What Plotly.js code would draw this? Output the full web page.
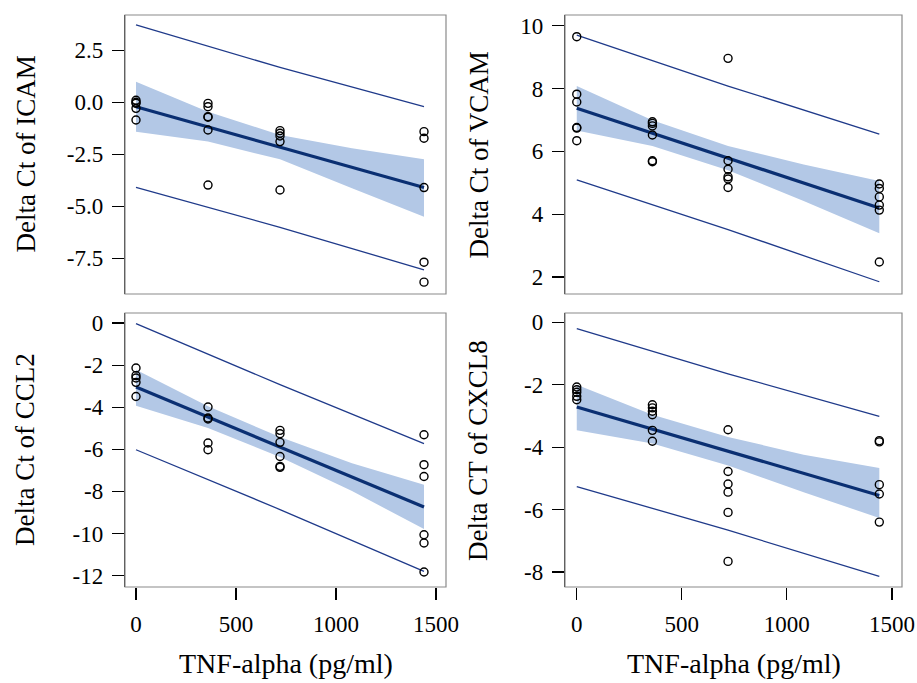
<!DOCTYPE html>
<html>
<head>
<meta charset="utf-8">
<script src="https://cdn.plot.ly/plotly-3.0.1.min.js"></script>
<style>html,body{margin:0;padding:0;background:#fff;}#chart{width:917px;height:683px;}</style>
</head>
<body>
<div id="chart"></div>
<script>
// ---- Data ----
// Panel 1: ICAM
const icamX = [0,0,0,0,0, 360,360,360,360,360,360, 720,720,720,720,720, 1440,1440,1440,1440,1440];
const icamY = [0.1,0.0,-0.05,-0.29,-0.85, -0.05,-0.21,-0.69,-0.72,-1.33,-3.98, -1.36,-1.49,-1.62,-1.89,-4.22, -1.41,-1.73,-4.1,-7.69,-8.65];
// Panel 2: VCAM
const vcamX = [0,0,0,0,0,0, 360,360,360,360,360,360, 720,720,720,720,720,720, 1440,1440,1440,1440,1440,1440];
const vcamY = [9.65,7.82,7.57,6.76,6.74,6.34, 6.94,6.89,6.81,6.52,5.70,5.67, 8.96,5.70,5.43,5.19,5.12,4.85, 4.96,4.82,4.55,4.29,4.13,2.48];
// Panel 3: CCL2
const ccl2X = [0,0,0,0,0, 360,360,360,360,360, 720,720,720,720,720,720, 1440,1440,1440,1440,1440,1440];
const ccl2Y = [-2.14,-2.50,-2.61,-2.82,-3.49, -3.99,-4.51,-4.56,-5.70,-6.02, -5.10,-5.26,-5.67,-6.34,-6.81,-6.86, -5.31,-6.73,-7.29,-10.06,-10.45,-11.83];
// Panel 4: CXCL8
const cxcl8X = [0,0,0,0,0, 360,360,360,360,360,360, 720,720,720,720,720,720, 1440,1440,1440,1440,1440];
const cxcl8Y = [-2.07,-2.16,-2.24,-2.37,-2.48, -2.64,-2.74,-2.85,-2.96,-3.46,-3.81, -3.44,-4.78,-5.18,-5.44,-6.09,-7.66, -3.79,-3.83,-5.20,-5.50,-6.40];

// Fitted lines (read at the ends)
const fitX = [0, 1440];
const icamFit = [-0.21, -4.10];
const vcamFit = [7.37, 4.20];
const ccl2Fit = [-3.04, -8.74];
const cxcl8Fit = [-2.71, -5.55];

// Confidence bands (read at these doses)
const bandX = [0, 360, 720, 1080, 1440];
const icamCIup = [0.99, -0.45, -1.57, -2.21, -2.74];
const icamCIlo = [-1.41, -1.89, -2.74, -4.13, -5.50];
const vcamCIup = [8.08, 6.99, 6.17, 5.58, 5.06];
const vcamCIlo = [6.66, 6.17, 5.40, 4.42, 3.39];
const ccl2CIup = [-2.22, -3.95, -5.42, -6.66, -7.68];
const ccl2CIlo = [-3.93, -4.99, -6.36, -7.98, -9.79];
const cxcl8CIup = [-2.00, -2.96, -3.67, -4.24, -4.67];
const cxcl8CIlo = [-3.46, -3.88, -4.59, -5.44, -6.27];

// Prediction bands
const predX = [0, 720, 1440];
const icamPIup = [3.72, 1.68, -0.21];
const icamPIlo = [-4.09, -6.01, -8.06];
const vcamPIup = [9.70, 8.08, 6.55];
const vcamPIlo = [5.09, 3.51, 1.85];
const ccl2PIup = [-0.03, -2.93, -5.73];
const ccl2PIlo = [-6.02, -8.86, -11.80];
const cxcl8PIup = [-0.20, -1.65, -3.01];
const cxcl8PIlo = [-5.26, -6.66, -8.14];

// Axis ticks
const xTicks = [0, 500, 1000, 1500];
const xTickText = ['0', '500', '1000', '1500'];
const icamTicks = [-7.5, -5, -2.5, 0, 2.5];
const icamTickText = ['-7.5', '-5.0', '-2.5', '0.0', '2.5'];
const vcamTicks = [2, 4, 6, 8, 10];
const vcamTickText = ['2', '4', '6', '8', '10'];
const ccl2Ticks = [-12, -10, -8, -6, -4, -2, 0];
const ccl2TickText = ['-12', '-10', '-8', '-6', '-4', '-2', '0'];
const cxcl8Ticks = [-8, -6, -4, -2, 0];
const cxcl8TickText = ['-8', '-6', '-4', '-2', '0'];

const yTitles = ['Delta Ct of ICAM', 'Delta Ct of VCAM', 'Delta Ct of CCL2', 'Delta CT of CXCL8'];
const xTitle = 'TNF-alpha (pg/ml)';

// ---- Styling ----
const FONT = 'Liberation Serif, Times New Roman, serif';
const bandColor = '#b3c8e6';
const fitColor = '#0a2f72';
const piColor = '#1f3a8a';

const panels = [
  {x: icamX, y: icamY, fit: icamFit, up: icamCIup, lo: icamCIlo, pu: icamPIup, pl: icamPIlo},
  {x: vcamX, y: vcamY, fit: vcamFit, up: vcamCIup, lo: vcamCIlo, pu: vcamPIup, pl: vcamPIlo},
  {x: ccl2X, y: ccl2Y, fit: ccl2Fit, up: ccl2CIup, lo: ccl2CIlo, pu: ccl2PIup, pl: ccl2PIlo},
  {x: cxcl8X, y: cxcl8Y, fit: cxcl8Fit, up: cxcl8CIup, lo: cxcl8CIlo, pu: cxcl8PIup, pl: cxcl8PIlo}
];

const traces = [];
panels.forEach((p, i) => {
  const xa = i === 0 ? 'x' : 'x' + (i + 1);
  const ya = i === 0 ? 'y' : 'y' + (i + 1);
  traces.push({
    x: bandX.concat(bandX.slice().reverse()),
    y: p.up.concat(p.lo.slice().reverse()),
    type: 'scatter', mode: 'lines', fill: 'toself', fillcolor: bandColor,
    line: {width: 0, color: bandColor}, xaxis: xa, yaxis: ya, hoverinfo: 'skip'
  });
  traces.push({x: predX, y: p.pu, type: 'scatter', mode: 'lines', line: {color: piColor, width: 1.3}, xaxis: xa, yaxis: ya});
  traces.push({x: predX, y: p.pl, type: 'scatter', mode: 'lines', line: {color: piColor, width: 1.3}, xaxis: xa, yaxis: ya});
  traces.push({x: fitX, y: p.fit, type: 'scatter', mode: 'lines', line: {color: fitColor, width: 3.2}, xaxis: xa, yaxis: ya});
  traces.push({
    x: p.x, y: p.y, type: 'scatter', mode: 'markers', xaxis: xa, yaxis: ya,
    marker: {symbol: 'circle-open', size: 8, color: '#000', line: {width: 1.4, color: '#000'}}
  });
});

const W = 917, H = 683;
const leftDom = [125 / W, 446 / W];
const rightDom = [565 / W, 902 / W];
const topDom = [1 - 294 / H, 1 - 15 / H];
const botDom = [1 - 587 / H, 1 - 313 / H];

function xAxis(dom, range, showTicks, anchor) {
  return {
    domain: dom, range: range, anchor: anchor, showgrid: false, zeroline: false, showline: false,
    ticks: showTicks ? 'outside' : '', ticklen: 12, tickwidth: 1.2, tickcolor: '#000',
    tickvals: xTicks, ticktext: xTickText, showticklabels: showTicks,
    tickfont: {family: FONT, size: 23, color: '#000'}, ticklabelstandoff: 4
  };
}
function yAxis(dom, range, vals, text, anchor) {
  return {
    domain: dom, range: range, anchor: anchor, showgrid: false, zeroline: false,
    showline: true, linecolor: '#222', linewidth: 1.2,
    ticks: 'outside', ticklen: 12, tickwidth: 1.2, tickcolor: '#000',
    tickvals: vals, ticktext: text,
    tickfont: {family: FONT, size: 23, color: '#000'}, ticklabelstandoff: 4
  };
}

const shapes = [];
['', '2', '3', '4'].forEach(s => {
  shapes.push({type: 'rect', xref: 'x' + s + ' domain', yref: 'y' + s + ' domain', x0: 0, x1: 1, y0: 0, y1: 1,
    line: {color: '#8a8a8a', width: 1.2}, fillcolor: 'rgba(0,0,0,0)', layer: 'above'});
});

const annotations = [];
const yTitlePos = [
  {x: 25, y: (15 + 294) / 2}, {x: 478, y: (15 + 294) / 2},
  {x: 25, y: (313 + 587) / 2}, {x: 478, y: (313 + 587) / 2}
];
yTitles.forEach((t, i) => {
  annotations.push({text: t, xref: 'paper', yref: 'paper', x: yTitlePos[i].x / W, y: 1 - yTitlePos[i].y / H,
    textangle: -90, showarrow: false, xanchor: 'center', yanchor: 'middle',
    font: {family: FONT, size: 27, color: '#000'}});
});
[(125 + 446) / 2, (565 + 902) / 2].forEach(cx => {
  annotations.push({text: xTitle, xref: 'paper', yref: 'paper', x: cx / W, y: 1 - 663 / H,
    showarrow: false, xanchor: 'center', yanchor: 'middle', font: {family: FONT, size: 28, color: '#000'}});
});

const layout = {
  width: W, height: H, margin: {l: 0, r: 0, t: 0, b: 0},
  paper_bgcolor: '#fff', plot_bgcolor: '#fff', showlegend: false,
  xaxis: xAxis(leftDom, [-55, 1550], false, 'y'),
  yaxis: yAxis(topDom, [-9.22, 4.2], icamTicks, icamTickText, 'x'),
  xaxis2: xAxis(rightDom, [-56, 1548], false, 'y2'),
  yaxis2: yAxis(topDom, [1.46, 10.34], vcamTicks, vcamTickText, 'x2'),
  xaxis3: xAxis(leftDom, [-55, 1550], true, 'y3'),
  yaxis3: yAxis(botDom, [-12.54, 0.475], ccl2Ticks, ccl2TickText, 'x3'),
  xaxis4: xAxis(rightDom, [-56, 1548], true, 'y4'),
  yaxis4: yAxis(botDom, [-8.48, 0.30], cxcl8Ticks, cxcl8TickText, 'x4'),
  shapes: shapes, annotations: annotations
};

Plotly.newPlot('chart', traces, layout, {displayModeBar: false, staticPlot: true});
</script>
</body>
</html>
